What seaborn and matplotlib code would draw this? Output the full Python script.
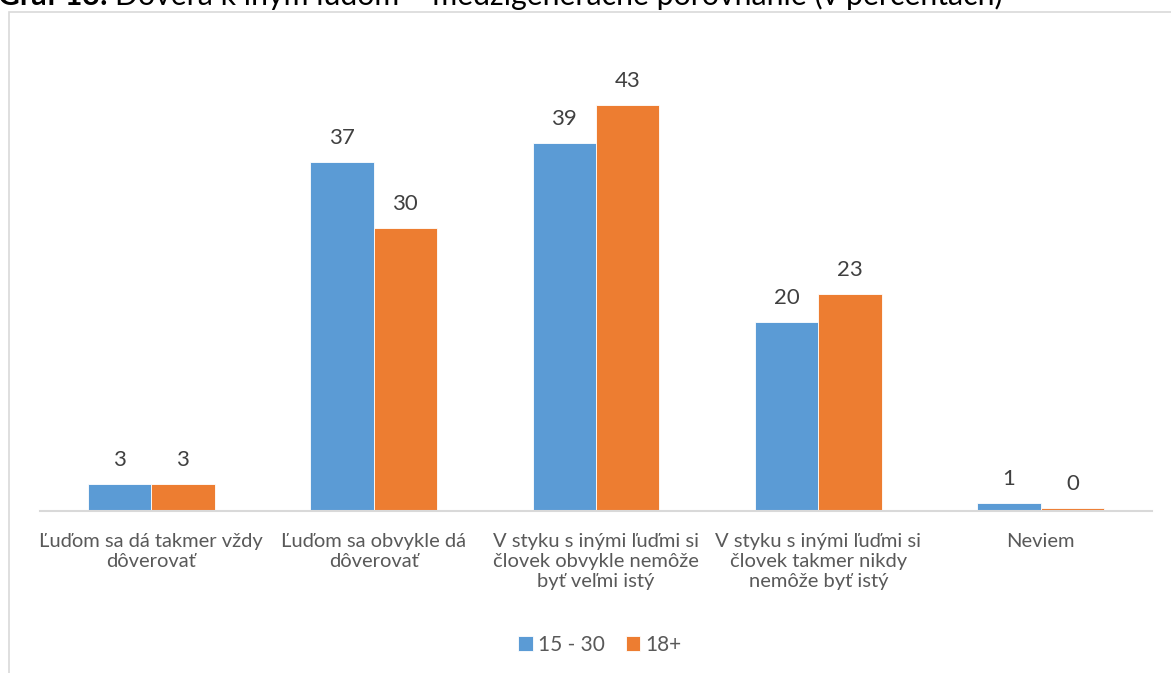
import pandas as pd
import seaborn as sns
import matplotlib.pyplot as plt
from matplotlib.patches import Rectangle

# Data
categories = [
    "Ľuďom sa dá takmer vždy\ndôverovať",
    "Ľuďom sa obvykle dá\ndôverovať",
    "V styku s inými ľuďmi si\nčlovek obvykle nemôže\nbyť veľmi istý",
    "V styku s inými ľuďmi si\nčlovek takmer nikdy\nnemôže byť istý",
    "Neviem",
]
young = [2.9, 37, 39, 20, 0.9]
adults = [2.9, 30, 43, 23, 0.3]
series = ["15 - 30", "18+"]
colors = ["#5B9BD5", "#ED7D31"]

df = pd.DataFrame({
    "kategoria": categories * 2,
    "skupina": [series[0]] * len(categories) + [series[1]] * len(categories),
    "hodnota": young + adults,
})

sns.set_style("white")
plt.rcParams["font.family"] = ["Lato", "DejaVu Sans"]
text_col = "#595959"

W, H = 1171, 673
fig = plt.figure(figsize=(W / 100, H / 100), dpi=100)
ax = fig.add_axes([40 / W, 1 - 511 / H, 1112 / W, (511 - 58) / H])

sns.barplot(data=df, x="kategoria", y="hodnota", hue="skupina",
            palette=colors, saturation=1, width=0.57, gap=0, ax=ax,
            edgecolor="white", linewidth=0.6, legend=True)

for cont in ax.containers:
    ax.bar_label(cont, fmt="%.0f", padding=10, fontsize=16, color="#404040")

ax.set_ylim(0, 48)
ax.set_xlim(-0.5, len(categories) - 0.5)
ax.set_xlabel("")
ax.set_ylabel("")
ax.set_yticks([])
ax.tick_params(axis="x", length=0, pad=16, labelsize=14.5, labelcolor=text_col)
for s in ["top", "right", "left"]:
    ax.spines[s].set_visible(False)
ax.spines["bottom"].set_color("#D9D9D9")
ax.spines["bottom"].set_linewidth(1.5)

handles, labels = ax.get_legend_handles_labels()
ax.legend(handles, labels, loc="center", bbox_to_anchor=(600 / W, 1 - 645 / H),
          bbox_transform=fig.transFigure, ncol=2, frameon=False,
          fontsize=15, labelcolor=text_col, handlelength=0.7, handleheight=0.7,
          handletextpad=0.25, columnspacing=1.0)

# chart frame
fig.patches.append(Rectangle((9 / W, -0.1), 1.2, 1 - 12 / H + 0.1,
                             transform=fig.transFigure, fill=False,
                             edgecolor="#D9D9D9", linewidth=1.2))

# caption above the chart, partly cut off by the image edge as in the source
t1 = fig.text(-2 / W, 1 - 5 / H, "Graf 13:", fontsize=21.8, fontweight="bold",
              va="baseline", ha="left", color="black")
fig.canvas.draw()
bb = t1.get_window_extent()
fig.text((bb.x1 + 7) / W, 1 - 5 / H,
         "Dôvera k iným ľuďom – medzigeneračné porovnanie (v percentách)",
         fontsize=21.8, va="baseline", ha="left", color="black")

fig.savefig("out.png", dpi=100)
